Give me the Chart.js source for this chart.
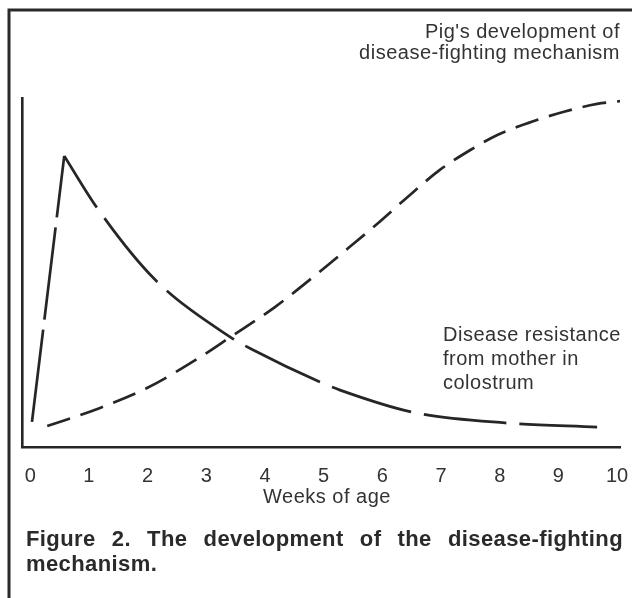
<!DOCTYPE html>
<html>
<head>
<meta charset="utf-8">
<script src="https://cdn.jsdelivr.net/npm/chart.js@4/dist/chart.umd.min.js"></script>
<style>
  html, body { margin: 0; padding: 0; background: #fff; }
  #wrap { width: 632px; height: 598px; position: relative; }
</style>
</head>
<body>
<div id="wrap"><canvas id="chart" width="632" height="598"></canvas></div>
<script>
// x axis: weeks of age
const weekTicks = [0, 1, 2, 3, 4, 5, 6, 7, 8, 9, 10];

// disease resistance from mother in colostrum (relative level)
const colostrumWeeks = [0.03, 0.58, 1.14, 2.13, 3.41, 3.80, 4.94, 5.28, 6.51, 8.09, 9.66];
const colostrumValues = [7.2, 83.4, 68.5, 47.9, 31.5, 27.8, 18.6, 16.3, 10.0, 6.9, 5.7];

// pig's own disease-fighting mechanism (relative level)
const pigWeeks = [0.29, 1.19, 1.99, 2.90, 3.41, 4.17, 4.91, 5.42, 5.91, 6.51, 6.98, 7.50, 7.96, 8.48, 9.08, 9.66, 10.05];
const pigValues = [6.0, 11.2, 16.9, 25.8, 31.5, 40.1, 49.9, 57.0, 63.9, 72.8, 79.4, 85.1, 89.4, 92.8, 96.0, 98.3, 99.1];

const ink = '#262626';
const textInk = '#333333';
const font = '"Liberation Sans", Arial, Helvetica, sans-serif';

function pairs(xs, ys) {
  return xs.map((x, i) => ({ x: x, y: ys[i] }));
}

// rise to the peak is straight, the decline is a smooth curve
const peak = colostrumValues.indexOf(Math.max(...colostrumValues));
const colostrumRise = pairs(colostrumWeeks.slice(0, peak + 1), colostrumValues.slice(0, peak + 1));
const colostrumFall = pairs(colostrumWeeks.slice(peak), colostrumValues.slice(peak));
const pigLine = pairs(pigWeeks, pigValues);

function justify(ctx, words, x0, x1, y) {
  const widths = words.map(w => ctx.measureText(w).width);
  const total = widths.reduce((a, b) => a + b, 0);
  const gap = (x1 - x0 - total) / (words.length - 1);
  let x = x0;
  words.forEach((w, i) => {
    ctx.fillText(w, x, y);
    x += widths[i] + gap;
  });
}

const paperPlugin = {
  id: 'paper',
  beforeDraw(chart) {
    const ctx = chart.ctx;
    ctx.save();
    ctx.fillStyle = '#ffffff';
    ctx.fillRect(0, 0, chart.width, chart.height);
    ctx.restore();
  },
  afterDraw(chart) {
    const ctx = chart.ctx;
    ctx.save();

    // page frame
    ctx.strokeStyle = '#2a2a2a';
    ctx.lineWidth = 3;
    ctx.beginPath();
    ctx.moveTo(9, chart.height);
    ctx.lineTo(9, 10);
    ctx.lineTo(chart.width, 10);
    ctx.stroke();

    ctx.fillStyle = textInk;
    ctx.textBaseline = 'middle';
    ctx.letterSpacing = '0.5px';
    ctx.font = '20px ' + font;

    ctx.textAlign = 'right';
    ctx.fillText("Pig's development of", 620, 32);
    ctx.fillText('disease-fighting mechanism', 620, 53);

    ctx.textAlign = 'left';
    ctx.fillText('Disease resistance', 443, 335);
    ctx.fillText('from mother in', 443, 359);
    ctx.fillText('colostrum', 443, 383);

    ctx.textAlign = 'center';
    ctx.fillText('Weeks of age', 327, 497);

    ctx.textAlign = 'left';
    ctx.fillStyle = '#2a2a2a';
    ctx.letterSpacing = '0.4px';
    ctx.font = 'bold 22px ' + font;
    justify(ctx, ['Figure', '2.', 'The', 'development', 'of', 'the', 'disease-fighting'], 26, 623, 540);
    ctx.fillText('mechanism.', 26, 565);

    ctx.restore();
  }
};

new Chart(document.getElementById('chart'), {
  type: 'line',
  data: {
    datasets: [
      {
        label: 'Disease resistance from mother in colostrum',
        data: colostrumRise,
        borderColor: ink,
        borderWidth: 2.7,
        borderDash: [93, 10],
        tension: 0
      },
      {
        label: 'Disease resistance from mother in colostrum (decline)',
        data: colostrumFall,
        borderColor: ink,
        borderWidth: 2.7,
        borderDash: [83, 13],
        borderDashOffset: 22,
        cubicInterpolationMode: 'monotone'
      },
      {
        label: "Pig's development of disease-fighting mechanism",
        data: pigLine,
        borderColor: ink,
        borderWidth: 2.7,
        borderDash: [24, 11],
        cubicInterpolationMode: 'monotone'
      }
    ]
  },
  options: {
    responsive: false,
    animation: false,
    layout: { padding: { left: 22, right: 12, top: 98, bottom: 101 } },
    elements: { point: { radius: 0 } },
    plugins: {
      legend: { display: false },
      tooltip: { enabled: false }
    },
    scales: {
      x: {
        type: 'linear',
        min: -0.14,
        max: 10.05,
        afterBuildTicks: s => { s.ticks = weekTicks.map(v => ({ value: v })); },
        afterFit: s => { s.height = 50; s.paddingLeft = 0; s.paddingRight = 0; },
        grid: { display: false, drawTicks: false },
        border: { display: true, color: ink, width: 2.6 },
        ticks: {
          autoSkip: false,
          maxRotation: 0,
          padding: 17,
          color: textInk,
          font: { family: font, size: 20 }
        }
      },
      y: {
        min: 0,
        max: 100,
        afterFit: s => { s.width = 0; },
        grid: { display: false, drawTicks: false },
        border: { display: true, color: ink, width: 2.6 },
        ticks: { display: false }
      }
    }
  },
  plugins: [paperPlugin]
});
</script>
</body>
</html>
